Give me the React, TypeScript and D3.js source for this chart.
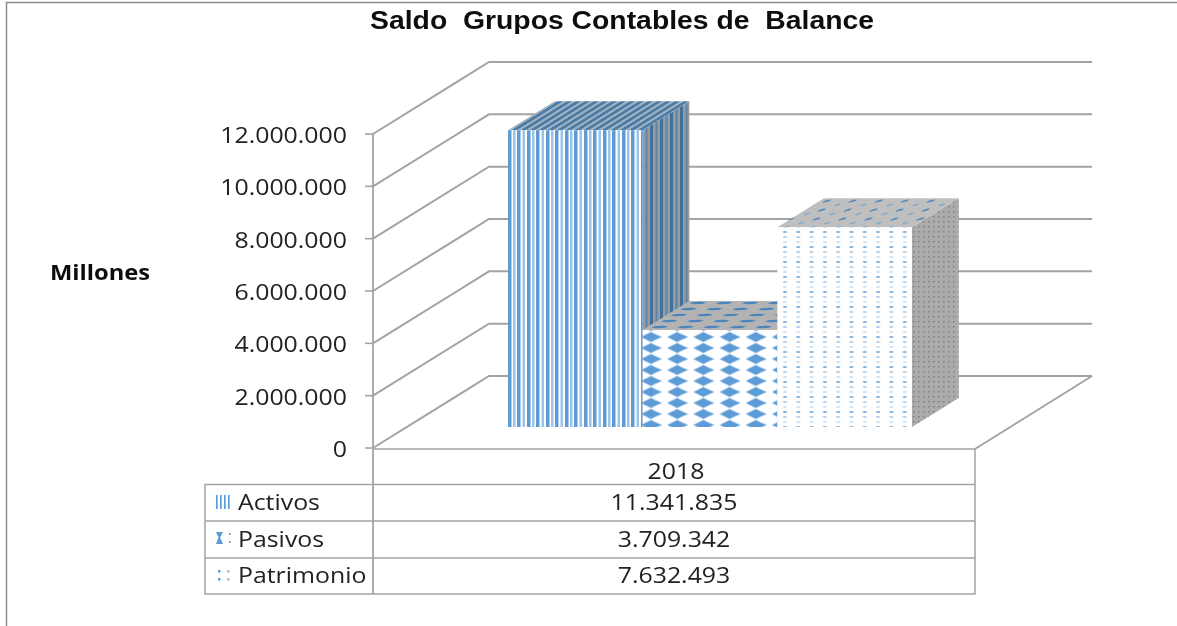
import React from "react";
import * as d3 from "d3";

const title = "Saldo  Grupos Contables de  Balance";
const axisTitle = "Millones";
const category = "2018";
const seriesNames = ["Activos", "Pasivos", "Patrimonio"];
const seriesValues = [11341835, 3709342, 7632493];
const seriesLabels = ["11.341.835", "3.709.342", "7.632.493"];
const tickValues = [0, 2000000, 4000000, 6000000, 8000000, 10000000, 12000000];
const tickLabels = ["0", "2.000.000", "4.000.000", "6.000.000", "8.000.000", "10.000.000", "12.000.000"];

const W = 1177, H = 626;
const y = d3.scaleLinear().domain([0, 12000000]).range([448, 134]);
const x = d3.scaleBand<string>().domain(seriesNames).range([508, 912]).padding(0);
const depthX = d3.scaleLinear().domain([0, 72]).range([0, 116]);
const P = (px: number, v: number, d: number): [number, number] => [px + depthX(d), y(v) - d];
const poly = (pts: [number, number][]) => d3.line()(pts)! + "Z";

const BAR_D0 = 21, BAR_D1 = 50, BACK = 72;
const LEFT = 373, RIGHT = 975;
const font = "'Open Sans', 'Noto Sans', sans-serif";
const rowY = [484.5, 521, 558, 594];
const TABLE_L = 205;
const STRETCH = 1.13;
const BLUE = "#5b9bd5", LIGHT = "#9dc3e6", GREY = "#a3a3a3";

const front = ["url(#pA)", "url(#pP)", "url(#pQ)"];
const top = ["url(#pAt)", "url(#pPt)", "url(#pQt)"];
const side = ["url(#pAs)", "url(#pPs)", "url(#pQs)"];

function Wide({ x: tx, y: ty, anchor, sx = STRETCH, children, ...rest }: any) {
  return (
    <text transform={`translate(${tx} ${ty}) scale(${sx} 1)`} textAnchor={anchor} {...rest}>
      {children}
    </text>
  );
}

export default function App() {
  return (
    <svg width={W} height={H} style={{ position: "absolute", left: 0, top: 0, display: "block", background: "#fff" }}>
      <defs>
        <filter id="soft" x="-2%" y="-2%" width="104%" height="104%"><feGaussianBlur stdDeviation="0.45" /></filter>
        <pattern id="pA" width="19" height="10" patternUnits="userSpaceOnUse" x="508">
          <rect width="19" height="10" fill="#fff" />
          <rect x="0" width="3.5" height="10" fill={BLUE} />
          <rect x="5" width="2.5" height="10" fill={LIGHT} />
          <rect x="9" width="3.5" height="10" fill={BLUE} />
          <rect x="14.5" width="2.5" height="10" fill={LIGHT} />
        </pattern>
        <pattern id="pAt" width="9" height="8" patternUnits="userSpaceOnUse" patternTransform="skewX(-58)">
          <rect width="9" height="8" fill="#a3b1be" />
          <rect width="5" height="8" fill="#4a7ba8" />
        </pattern>
        <pattern id="pAs" width="10" height="10" patternUnits="userSpaceOnUse" x="640">
          <rect width="10" height="10" fill="#979ca1" />
          <rect width="3" height="10" fill="#3f6f9e" />
          <rect x="5.5" width="2" height="10" fill="#5d84a8" />
        </pattern>
        <pattern id="pP" width="26.2" height="11" patternUnits="userSpaceOnUse" x="641" y="331.5">
          <rect width="26.2" height="11" fill="#fff" />
          <path d="M0 5.5L5 3L10 0.5L15 3L21 5.5L15 8L10 10.5L5 8Z" fill={BLUE} />
        </pattern>
        <pattern id="pPt" width="26" height="6" patternUnits="userSpaceOnUse" patternTransform="skewX(-58)">
          <rect width="26" height="6" fill="#b3b3b3" />
          <ellipse cx="13" cy="3" rx="7.5" ry="1.3" fill="#4a85bd" />
        </pattern>
        <pattern id="pPs" width="9" height="10" patternUnits="userSpaceOnUse" x="778">
          <rect width="9" height="10" fill="#a6a6a6" />
        </pattern>
        <pattern id="pQ" width="13.3" height="15" patternUnits="userSpaceOnUse" x="780" y="230">
          <rect width="13.3" height="15" fill="#fff" />
          <ellipse cx="5" cy="2" rx="2.2" ry="1.1" fill={BLUE} opacity="0.8" />
          <ellipse cx="5" cy="7" rx="2.2" ry="1" fill={LIGHT} opacity="0.8" />
          <ellipse cx="5" cy="12" rx="2.2" ry="1" fill={LIGHT} opacity="0.5" />
        </pattern>
        <pattern id="pQt" width="26" height="9" patternUnits="userSpaceOnUse" patternTransform="skewX(-30)">
          <rect width="26" height="9" fill="#bfbfbf" />
          <ellipse cx="7" cy="3" rx="3.5" ry="1" fill="#4a85bd" transform="rotate(-20 7 3)" />
          <ellipse cx="20" cy="7" rx="3" ry="0.9" fill="#7aa4cb" transform="rotate(-20 20 7)" />
        </pattern>
        <pattern id="pQs" width="5" height="5" patternUnits="userSpaceOnUse" x="912">
          <rect width="5" height="5" fill="#ababab" />
          <rect x="1" y="1" width="1.5" height="1.5" fill="#75838f" />
        </pattern>
        <pattern id="kA" width="4" height="10" patternUnits="userSpaceOnUse" x="216">
          <rect width="2" height="10" fill={LIGHT} />
          <rect width="1.2" height="10" fill={BLUE} />
          <rect x="2" width="2" height="10" fill="#fff" />
        </pattern>
      </defs>

      {/* chart border */}
      <path d="M6.5 626V2.5H1177" fill="none" stroke="#8c8c8c" strokeWidth={1.5} />

      <g filter="url(#soft)">
        {/* walls and floor */}
        {tickValues.map((t) => {
          const a = P(LEFT, t, 0), b = P(LEFT, t, BACK), c: [number, number] = [1092, b[1]];
          return <path key={t} d={d3.line()([a, b, c])!} fill="none" stroke={GREY} strokeWidth={2} />;
        })}
        <path d={d3.line()([[1092, y(0) - BACK], [RIGHT, y(0) + 1]])!} stroke={GREY} strokeWidth={2} fill="none" />
        <path d={`M${LEFT} ${y(12000000)}V${rowY[3]}`} stroke={GREY} strokeWidth={1.8} fill="none" />
        {tickValues.map((t) => (
          <line key={t} x1={LEFT - 8} x2={LEFT} y1={y(t)} y2={y(t)} stroke={GREY} strokeWidth={1.6} />
        ))}

        {/* bars, drawn left to right */}
        {seriesNames.map((s, i) => {
          const off = depthX(BAR_D0);
          const x0 = x(s)! - off, x1 = x0 + x.bandwidth(), v = seriesValues[i];
          return (
            <g key={s}>
              <path d={poly([P(x1, v, BAR_D0), P(x1, v, BAR_D1), P(x1, 0, BAR_D1), P(x1, 0, BAR_D0)])} fill={side[i]} />
              <path d={poly([P(x0, v, BAR_D0), P(x0, v, BAR_D1), P(x1, v, BAR_D1), P(x1, v, BAR_D0)])} fill={top[i]} />
              <path d={poly([P(x0, v, BAR_D0), P(x1, v, BAR_D0), P(x1, 0, BAR_D0), P(x0, 0, BAR_D0)])} fill={front[i]} />
            </g>
          );
        })}

        {/* data table */}
        <g stroke={GREY} strokeWidth={1.5} fill="none">
          <path d={`M${LEFT} ${y(0) + 1}H${RIGHT}V${rowY[3]}H${TABLE_L}V${rowY[0]}H${RIGHT}`} />
          <path d={`M${TABLE_L} ${rowY[1]}H${RIGHT}M${TABLE_L} ${rowY[2]}H${RIGHT}`} />
        </g>
        <rect x={216} y={495} width={16} height={14} fill="url(#kA)" />
        <path d="M216 532L223 532L220 537.5L223 544L216 544L218.5 537.5Z" fill={BLUE} />
        <g fill={BLUE}><rect x={229} y={533} width={1.5} height={2} /><rect x={229} y={541} width={1.5} height={2} /></g>
        <g fill={LIGHT}>
          <rect x={218} y={570} width={2.5} height={2.5} fill={BLUE} /><rect x={218} y={578} width={2.5} height={2.5} fill={BLUE} />
          <rect x={227} y={570} width={2.5} height={2.5} /><rect x={227} y={578} width={2.5} height={2.5} />
        </g>

        {/* text */}
        <g fontFamily={font} fontSize={22} fill="#222">
          {tickValues.map((t, i) => (
            <Wide key={t} x={347} y={y(t) + 9} anchor="end">{tickLabels[i]}</Wide>
          ))}
          <Wide x={676} y={479} anchor="middle">{category}</Wide>
          {seriesNames.map((s, i) => (
            <g key={s}>
              <Wide x={238} y={(rowY[i] + rowY[i + 1]) / 2 + 7} anchor="start">{s}</Wide>
              <Wide x={674} y={(rowY[i] + rowY[i + 1]) / 2 + 7} anchor="middle">{seriesLabels[i]}</Wide>
            </g>
          ))}
        </g>
        <Wide x={100} y={280} anchor="middle" fontFamily={font} fontWeight={700} fontSize={21} fill="#111">{axisTitle}</Wide>
        <Wide x={622} y={29} anchor="middle" sx={1.134} fontFamily="'Liberation Sans', Arial, sans-serif" fontWeight={700} fontSize={25} fill="#111" style={{ whiteSpace: "pre" }}>{title}</Wide>
      </g>
    </svg>
  );
}
